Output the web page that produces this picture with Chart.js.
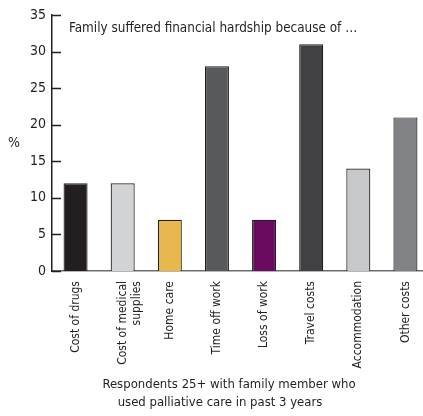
<!DOCTYPE html>
<html>
<head>
<meta charset="utf-8">
<script src="https://cdn.jsdelivr.net/npm/chart.js@4/dist/chart.umd.min.js"></script>
<style>
html,body{margin:0;padding:0;background:#fff;overflow:hidden;}
#wrap{position:relative;width:430px;height:416px;}
</style>
</head>
<body>
<div id="wrap"><canvas id="c" width="430" height="416"></canvas></div>
<script>
const categories = ["Cost of drugs", ["Cost of medical", "supplies"], "Home care", "Time off work", "Loss of work", "Travel costs", "Accommodation", "Other costs"];
const values = [12, 12, 7, 28, 7, 31, 14, 21];
const barColors = ["#231f20", "#d1d3d4", "#e8b84f", "#58595b", "#6b0b5f", "#414042", "#c7c8ca", "#808285"];
const yTicks = [0, 5, 10, 15, 20, 25, 30, 35];
const titleText = "Family suffered financial hardship because of \u2026";
const yLabel = "%";
const caption = ["Respondents 25+ with family member who", "used palliative care in past 3 years"];

const FONT = "'DejaVu Sans Condensed', 'Liberation Sans Narrow', sans-serif";

const overlay = {
  id: 'overlay',
  afterDraw(chart) {
    const ctx = chart.ctx;
    const y = chart.scales.y, a = chart.chartArea;
    ctx.save();
    ctx.strokeStyle = '#231f20';
    ctx.lineWidth = 1.5;
    yTicks.forEach(v => {
      const py = Math.round(y.getPixelForValue(v)) + 0.5;
      ctx.beginPath();
      ctx.moveTo(a.left, py);
      ctx.lineTo(a.left + 9, py);
      ctx.stroke();
    });
    ctx.fillStyle = '#231f20';
    ctx.font = "13.4px " + FONT;
    ctx.textBaseline = 'middle';
    ctx.textAlign = 'left';
    ctx.fillText(titleText, a.left + 17, y.getPixelForValue(33.2));
    ctx.textAlign = 'center';
    ctx.font = "14px " + FONT;
    ctx.fillText(yLabel, 14, y.getPixelForValue(17.4));
    ctx.font = "13px " + FONT;
    ctx.fillText(caption[0], 229, 385);
    ctx.fillText(caption[1], 220, 403);
    ctx.restore();
  }
};

new Chart(document.getElementById('c'), {
  type: 'bar',
  data: {
    labels: categories,
    datasets: [{
      data: values,
      backgroundColor: barColors,
      borderColor: '#231f20',
      borderWidth: 1.2,
      barPercentage: 0.51,
      categoryPercentage: 1.0
    }]
  },
  options: {
    responsive: false,
    animation: false,
    devicePixelRatio: 1,
    layout: { padding: { top: 15, right: 1, left: 0, bottom: 0 } },
    plugins: { legend: { display: false }, tooltip: { enabled: false }, title: { display: false } },
    scales: {
      x: {
        grid: { display: false, drawTicks: false },
        border: { display: true, color: '#6d6e71', width: 1.5 },
        ticks: {
          color: '#231f20',
          font: { family: FONT, size: 12 },
          minRotation: 90, maxRotation: 90,
          padding: 10,
          autoSkip: false
        },
        afterFit(s) { s.height = 416 - 271; }
      },
      y: {
        min: 0, max: 35,
        grid: { display: false, drawTicks: false },
        border: { display: true, color: '#231f20', width: 1.5 },
        ticks: {
          stepSize: 5,
          color: '#231f20',
          font: { family: FONT, size: 14 },
          padding: 6
        },
        afterFit(s) { s.width = 52; }
      }
    }
  },
  plugins: [overlay]
});
</script>
</body>
</html>
